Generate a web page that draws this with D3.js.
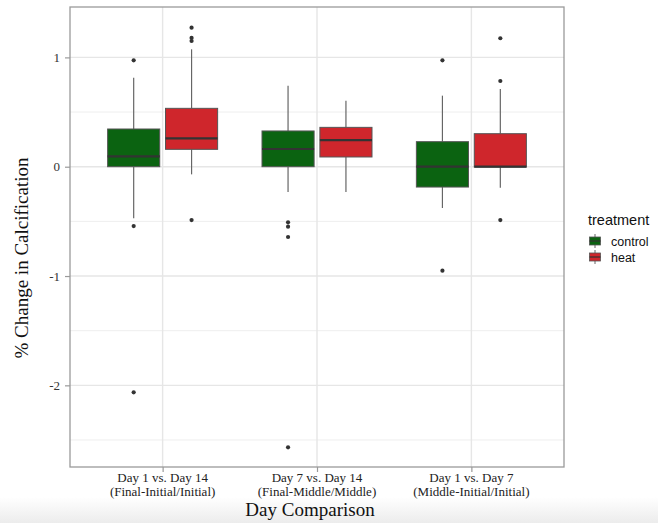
<!DOCTYPE html>
<html>
<head>
<meta charset="utf-8">
<script src="https://cdn.jsdelivr.net/npm/d3@7"></script>
<style>
  html, body { margin: 0; padding: 0; background: #fff; }
  svg { display: block; }
</style>
</head>
<body>
<svg id="chart" width="658" height="523"></svg>
<script>
// ---- data ----
const categories = ["Day 1 vs. Day 14", "Day 7 vs. Day 14", "Day 1 vs. Day 7"];
const categorySub = ["(Final-Initial/Initial)", "(Final-Middle/Middle)", "(Middle-Initial/Initial)"];
const treatments = ["control", "heat"];
const treatmentColors = ["#0b6311", "#cf262c"];
// [lower whisker, Q1, median, Q3, upper whisker] per category
const controlBox = [
  [-0.472, 0.000, 0.095, 0.345, 0.814],
  [-0.231, 0.000, 0.162, 0.327, 0.741],
  [-0.378, -0.186, 0.000, 0.229, 0.650]
];
const heatBox = [
  [-0.070, 0.159, 0.260, 0.534, 1.074],
  [-0.231, 0.089, 0.244, 0.360, 0.604],
  [-0.192, -0.003, 0.000, 0.302, 0.711]
];
const controlOutliers = [
  [0.973, -0.543, -2.064],
  [-0.509, -0.549, -0.643, -2.567],
  [0.973, -0.951]
];
const heatOutliers = [
  [1.272, 1.178, 1.150, -0.488],
  [],
  [1.175, 0.784, -0.488]
];
const yTicks = [-2, -1, 0, 1];
const yTickLabels = ["-2", "-1", "0", "1"];
const yMinorTicks = [-2.5, -1.5, -0.5, 0.5];
const yDomain = [-2.747, 1.461];

// ---- layout ----
const svg = d3.select("#chart");
const W = 658, H = 523;
const panel = { left: 70, top: 7, right: 564, bottom: 467 };

// faint shadow at the bottom of the photo
const defs = svg.append("defs");
const grad = defs.append("linearGradient").attr("id", "bottomShade").attr("x1", 0).attr("x2", 0).attr("y1", 0).attr("y2", 1);
grad.append("stop").attr("offset", "0%").attr("stop-color", "#ffffff");
grad.append("stop").attr("offset", "100%").attr("stop-color", "#ececec");
svg.append("rect").attr("x", 0).attr("y", 497).attr("width", W).attr("height", H - 497).attr("fill", "url(#bottomShade)");

const x = d3.scalePoint().domain(categories).range([panel.left, panel.right]).padding(0.6);
const y = d3.scaleLinear().domain(yDomain).range([panel.bottom, panel.top]);
const step = x.step();
const offsets = [-0.1875 * step, 0.1875 * step];
const halfW = 0.16875 * step;

const serif = "'Liberation Serif', 'Times New Roman', serif";
const sans = "'Liberation Sans', Arial, sans-serif";

// panel background & grid
const g = svg.append("g");
g.append("rect").attr("x", panel.left).attr("y", panel.top)
  .attr("width", panel.right - panel.left).attr("height", panel.bottom - panel.top).attr("fill", "#fff");

g.selectAll(".minor").data(yMinorTicks).enter().append("line")
  .attr("x1", panel.left).attr("x2", panel.right)
  .attr("y1", d => y(d)).attr("y2", d => y(d))
  .attr("stroke", "#eeeeee").attr("stroke-width", 1);
g.selectAll(".major").data(yTicks).enter().append("line")
  .attr("x1", panel.left).attr("x2", panel.right)
  .attr("y1", d => y(d)).attr("y2", d => y(d))
  .attr("stroke", "#e6e6e6").attr("stroke-width", 1.4);
g.selectAll(".vgrid").data(categories).enter().append("line")
  .attr("x1", d => x(d)).attr("x2", d => x(d))
  .attr("y1", panel.top).attr("y2", panel.bottom)
  .attr("stroke", "#e6e6e6").attr("stroke-width", 1.4);

// boxes
const series = [
  { box: controlBox, out: controlOutliers, color: treatmentColors[0], off: offsets[0] },
  { box: heatBox, out: heatOutliers, color: treatmentColors[1], off: offsets[1] }
];
series.forEach(s => {
  categories.forEach((c, i) => {
    const cx = x(c) + s.off;
    const [lo, q1, med, q3, hi] = s.box[i];
    g.append("line").attr("x1", cx).attr("x2", cx).attr("y1", y(q3)).attr("y2", y(hi))
      .attr("stroke", "#666").attr("stroke-width", 1.2);
    g.append("line").attr("x1", cx).attr("x2", cx).attr("y1", y(q1)).attr("y2", y(lo))
      .attr("stroke", "#666").attr("stroke-width", 1.2);
    g.append("rect").attr("x", cx - halfW).attr("y", y(q3))
      .attr("width", 2 * halfW).attr("height", Math.max(0.5, y(q1) - y(q3)))
      .attr("fill", s.color).attr("stroke", "#555").attr("stroke-width", 1);
    g.append("line").attr("x1", cx - halfW).attr("x2", cx + halfW).attr("y1", y(med)).attr("y2", y(med))
      .attr("stroke", "#333").attr("stroke-width", 2.2);
    s.out[i].forEach(v => {
      g.append("circle").attr("cx", cx).attr("cy", y(v)).attr("r", 2.1).attr("fill", "#333");
    });
  });
});

// panel border
g.append("rect").attr("x", panel.left).attr("y", panel.top)
  .attr("width", panel.right - panel.left).attr("height", panel.bottom - panel.top)
  .attr("fill", "none").attr("stroke", "#9a9a9a").attr("stroke-width", 1.3);

// y axis
const yAxis = g.append("g").attr("transform", `translate(${panel.left},0)`)
  .call(d3.axisLeft(y).tickValues(yTicks).tickSize(5).tickPadding(5)
    .tickFormat((d, i) => yTickLabels[i]));
yAxis.select(".domain").remove();
yAxis.selectAll(".tick line").attr("stroke", "#9a9a9a").attr("stroke-width", 1.2);
yAxis.selectAll(".tick text").attr("font-family", serif).attr("font-size", 13).attr("fill", "#333");

// x axis
const xAxis = g.append("g").attr("transform", `translate(0,${panel.bottom})`)
  .call(d3.axisBottom(x).tickSize(5).tickPadding(4).tickFormat(""));
xAxis.select(".domain").remove();
xAxis.selectAll(".tick line").attr("stroke", "#9a9a9a").attr("stroke-width", 1.2);
categories.forEach((c, i) => {
  const t = g.append("text").attr("x", x(c)).attr("text-anchor", "middle")
    .attr("font-family", serif).attr("font-size", 13).attr("fill", "#222");
  t.append("tspan").attr("x", x(c)).attr("y", 482).text(c);
  t.append("tspan").attr("x", x(c)).attr("y", 496).text(categorySub[i]);
});

// axis titles
svg.append("text").attr("x", 310).attr("y", 516).attr("text-anchor", "middle")
  .attr("font-family", serif).attr("font-size", 19).attr("fill", "#111").text("Day Comparison");
svg.append("text").attr("transform", "translate(28,258) rotate(-90)").attr("text-anchor", "middle")
  .attr("font-family", serif).attr("font-size", 19).attr("fill", "#111").text("% Change in Calcification");

// legend
const lg = svg.append("g").attr("transform", "translate(588,0)");
lg.append("text").attr("x", 0).attr("y", 225).attr("font-family", sans).attr("font-size", 14.5).attr("fill", "#111").text("treatment");
treatments.forEach((t, i) => {
  const ky = 233 + i * 16;
  const kx = 7;
  lg.append("line").attr("x1", kx).attr("x2", kx).attr("y1", ky + 1).attr("y2", ky + 15)
    .attr("stroke", "#666").attr("stroke-width", 1);
  lg.append("rect").attr("x", kx - 5.5).attr("y", ky + 4).attr("width", 11).attr("height", 8)
    .attr("fill", treatmentColors[i]).attr("stroke", "#555").attr("stroke-width", 0.8);
  lg.append("line").attr("x1", kx - 5.5).attr("x2", kx + 5.5).attr("y1", ky + 8).attr("y2", ky + 8)
    .attr("stroke", "#333").attr("stroke-width", 1.2);
  lg.append("text").attr("x", 23).attr("y", ky + 12.5).attr("font-family", sans).attr("font-size", 12.5)
    .attr("fill", "#111").text(t);
});
</script>
</body>
</html>
